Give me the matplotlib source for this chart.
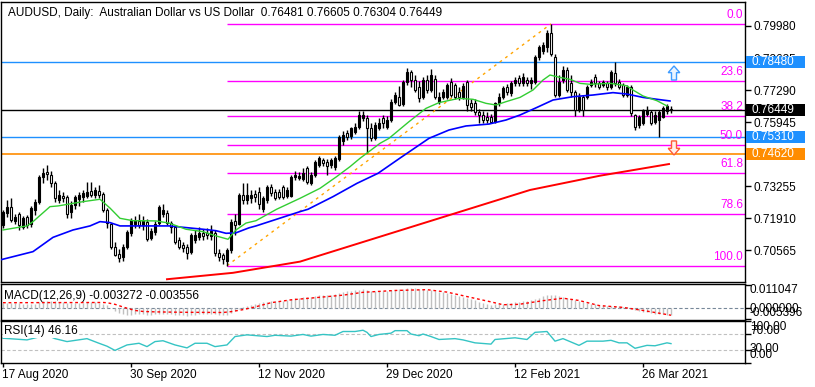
import numpy as np
import matplotlib
matplotlib.use("Agg")
import matplotlib.pyplot as plt
import matplotlib.transforms as mtransforms
from matplotlib.patches import FancyArrow, Rectangle

# ---------------- data ----------------
opens = [
 .7162,.7211,.7236,.7180,.7206,.7155,.7197,.7165,.7225,.7258,
 .7362,.7385,.7372,.7337,.7267,.7285,.7280,.7215,.7246,.7270,
 .7280,.7285,.7305,.7290,.7305,.7292,.7225,.7165,.7071,.7040,
 .7029,.7071,.7127,.7165,.7178,.7162,.7175,.7108,.7134,.7170,
 .7210,.7211,.7172,.7155,.7099,.7078,.7071,.7050,.7100,.7110,
 .7130,.7128,.7115,.7130,.7045,.7036,.7010,.7057,.7180,.7165,
 .7288,.7265,.7275,.7294,.7300,.7228,.7265,.7323,.7302,.7300,
 .7320,.7285,.7285,.7364,.7360,.7355,.7400,.7340,.7372,.7415,
 .7435,.7428,.7415,.7405,.7438,.7515,.7547,.7536,.7554,.7575,
 .7610,.7610,.7571,.7529,.7568,.7610,.7575,.7603,.7680,.7698,
 .7670,.7764,.7806,.7770,.7740,.7700,.7771,.7729,.7776,.7680,
 .7700,.7700,.7764,.7750,.7720,.7700,.7764,.7673,.7673,.7638,
 .7624,.7617,.7617,.7596,.7673,.7700,.7743,.7715,.7757,.7778,
 .7757,.7771,.7757,.7764,.7869,.7895,.7910,.7967,.7869,.7708,
 .7771,.7813,.7760,.7722,.7645,.7701,.7701,.7750,.7785,.7757,
 .7750,.7757,.7743,.7800,.7764,.7750,.7708,.7743,.7624,.7582,
 .7589,.7630,.7638,.7596,.7603,.7617,.7640,.76481]
highs = [
 .7225,.7267,.7274,.7210,.7215,.7200,.7205,.7240,.7270,.7372,
 .7400,.7413,.7390,.7345,.7310,.7300,.7290,.7262,.7290,.7300,
 .7310,.7344,.7342,.7320,.7330,.7300,.7235,.7170,.7090,.7060,
 .7080,.7140,.7190,.7200,.7210,.7200,.7185,.7150,.7180,.7245,
 .7250,.7225,.7180,.7160,.7110,.7090,.7080,.7130,.7140,.7155,
 .7145,.7150,.7160,.7140,.7060,.7045,.7065,.7185,.7210,.7295,
 .7337,.7340,.7310,.7310,.7320,.7285,.7330,.7335,.7315,.7315,
 .7330,.7320,.7370,.7390,.7385,.7400,.7410,.7385,.7435,.7450,
 .7445,.7440,.7445,.7450,.7540,.7555,.7560,.7575,.7590,.7642,
 .7640,.7625,.7590,.7595,.7610,.7625,.7620,.7690,.7720,.7745,
 .7770,.7820,.7815,.7790,.7765,.7785,.7790,.7819,.7790,.7720,
 .7735,.7760,.7780,.7760,.7740,.7760,.7770,.7690,.7690,.7650,
 .7640,.7635,.7630,.7680,.7715,.7745,.7755,.7765,.7785,.7790,
 .7800,.7785,.7785,.7875,.7920,.7930,.7980,.8007,.7880,.7790,
 .7830,.7825,.7790,.7730,.7715,.7710,.7750,.7775,.7795,.7765,
 .7770,.7765,.7815,.7848,.7775,.7760,.7750,.7750,.7630,.7625,
 .7650,.7660,.7645,.7640,.7645,.7660,.7670,.76605]
lows = [
 .7150,.7195,.7176,.7165,.7141,.7145,.7150,.7155,.7205,.7250,
 .7340,.7350,.7320,.7260,.7255,.7260,.7190,.7191,.7230,.7240,
 .7260,.7275,.7280,.7275,.7275,.7215,.7150,.7060,.7030,.7008,
 .7010,.7060,.7115,.7150,.7150,.7140,.7095,.7100,.7120,.7160,
 .7195,.7160,.7130,.7080,.7060,.7050,.7021,.7040,.7085,.7100,
 .7100,.7105,.7100,.7030,.7010,.7000,.6991,.7045,.7120,.7160,
 .7250,.7250,.7255,.7260,.7230,.7215,.7255,.7285,.7265,.7270,
 .7270,.7275,.7280,.7350,.7350,.7345,.7335,.7330,.7365,.7405,
 .7410,.7370,.7400,.7395,.7430,.7500,.7520,.7525,.7545,.7565,
 .7600,.7464,.7515,.7520,.7560,.7570,.7565,.7595,.7670,.7660,
 .7660,.7750,.7740,.7720,.7680,.7690,.7715,.7720,.7690,.7670,
 .7690,.7690,.7700,.7690,.7685,.7690,.7640,.7640,.7625,.7592,
 .7590,.7590,.7590,.7590,.7660,.7690,.7710,.7705,.7745,.7745,
 .7745,.7745,.7735,.7755,.7855,.7880,.7890,.7870,.7700,.7700,
 .7760,.7720,.7700,.7620,.7635,.7620,.7690,.7740,.7740,.7735,
 .7740,.7730,.7735,.7745,.7735,.7700,.7700,.7620,.7560,.7570,
 .7580,.7620,.7580,.7585,.7531,.7610,.7630,.76304]
closes = [
 .7218,.7239,.7183,.7197,.7162,.7190,.7162,.7232,.7260,.7365,
 .7380,.7375,.7337,.7274,.7288,.7275,.7210,.7248,.7280,.7288,
 .7295,.7302,.7290,.7309,.7290,.7225,.7170,.7071,.7036,.7025,
 .7071,.7134,.7183,.7180,.7162,.7180,.7105,.7135,.7166,.7239,
 .7225,.7169,.7153,.7092,.7071,.7064,.7043,.7120,.7118,.7130,
 .7115,.7118,.7135,.7043,.7029,.7020,.7057,.7176,.7160,.7288,
 .7265,.7290,.7288,.7280,.7250,.7274,.7323,.7298,.7274,.7280,
 .7281,.7310,.7365,.7372,.7368,.7379,.7344,.7372,.7428,.7442,
 .7421,.7410,.7433,.7442,.7533,.7540,.7533,.7568,.7575,.7624,
 .7624,.7571,.7529,.7582,.7589,.7589,.7603,.7680,.7708,.7666,
 .7764,.7806,.7770,.7729,.7694,.7771,.7729,.7790,.7700,.7700,
 .7720,.7750,.7708,.7700,.7700,.7745,.7666,.7659,.7638,.7624,
 .7603,.7603,.7596,.7673,.7701,.7736,.7722,.7757,.7771,.7757,
 .7785,.7757,.7771,.7869,.7911,.7918,.7967,.7880,.7708,.7764,
 .7813,.7729,.7722,.7645,.7701,.7645,.7743,.7764,.7757,.7743,
 .7764,.7743,.7806,.7757,.7743,.7708,.7740,.7631,.7575,.7617,
 .7645,.7645,.7589,.7624,.7638,.7652,.7660,.76449]

# moving averages (bar position, price)
ma_fast_x = [0,6,7.5,11.75,13.75,20,24.25,26.75,29.25,32.5,38.25,41.5,45.75,50,53.25,56.25,58.25,60.75,63.25,68.4,74.25,79.25,83.4,86.75,89.25,94.25,96.5,101.5,105.75,109,114,117.5,120.75,123.25,125.75,129.25,132.5,135,136.75,139.25,141.75,144.25,146.75,151.75,155.9,157.5,160,163.5,166]
ma_fast_v = [.7141,.7158,.7176,.7239,.7242,.7260,.7270,.7233,.7190,.7180,.7179,.7170,.7144,.7134,.7116,.7102,.7141,.7170,.7180,.7228,.7274,.7316,.7365,.7407,.7442,.7505,.7526,.7596,.7652,.7676,.7694,.7690,.7673,.7666,.7680,.7698,.7729,.7771,.7792,.7782,.7774,.7757,.7753,.7757,.7747,.7729,.7704,.7684,.7662]
ma_mid_x = [-0.75,7.5,12.5,17.5,21.75,24.25,26.75,29.25,33.25,41.5,50,53.25,55.75,58.25,61.5,63.25,74.25,76.25,82.5,88.5,93.75,99.25,106.5,111.5,115.75,121.5,125.75,129.25,133.5,137.5,142.5,147.5,152.5,156,160,163.5,166.75]
ma_mid_v = [.7015,.7050,.7110,.7141,.7158,.7176,.7172,.7158,.7158,.7158,.7144,.7138,.7127,.7129,.7150,.7158,.7218,.7228,.7281,.7337,.7379,.7443,.7526,.7561,.7578,.7586,.7603,.7624,.7656,.7687,.7701,.7708,.7718,.7712,.7698,.7690,.7683]
ma_slow_x = [41, 57.5, 74.25, 131.75, 149.25, 166.5]
ma_slow_v = [.6934, .6961, .7008, .7309, .7369, .7418]

# levels
fib_high, fib_low = 0.8007, 0.6991
fib_high_bar, fib_low_bar = 137, 56
fib_ratios = [0.0, 23.6, 38.2, 50.0, 61.8, 78.6, 100.0]
blue_levels = [0.78480, 0.75310]
orange_level = 0.74620
bid = 0.76449

# MACD histogram (one value per bar)
macd_main = [
 .0024,.0025,.0025,.0024,.0023,.0022,.0021,.0021,.0022,
 .0028,.0033,.0036,.0036,.0033,.0031,
 .0029,.0025,.0024,.0024,.0025,.0026,.0027,.0027,.0027,.0026,.0022,
 .0014,-.0002,-.0015,
 -.0026,-.0031,-.0033,-.0032,-.0031,
 -.0030,-.0030,-.0032,-.0032,-.0031,-.0028,-.0027,-.0028,-.0030,-.0033,-.0035,-.0036,-.0037,
 -.0034,-.0032,-.0030,-.0029,-.0028,-.0027,-.0030,-.0033,-.0035,
 -.0033,-.0024,-.0017,-.0007,.0003,
 .0011,.0017,.0022,.0025,.0027,.0031,.0033,.0034,.0035,.0036,
 .0038,.0043,.0047,.0050,.0053,.0052,.0054,.0058,.0062,.0064,.0065,.0066,.0067,.0073,.0078,.0081,.0084,.0086,.0090,.0092,
 .0088,.0084,.0084,.0083,.0082,.0082,.0086,.0090,.0092,.0094,.0097,.0098,.0097,.0093,.0093,
 .0090,.0090,.0085,.0080,.0077,.0074,.0070,.0065,
 .0060,.0055,.0048,.0043,.0037,.0031,.0025,.0020,.0016,
 .0018,.0020,.0022,.0024,.0026,.0029,.0031,.0034,
 .0036,.0037,.0044,.0051,.0057,.0063,.0066,.0062,
 .0058,.0055,.0050,.0045,.0038,.0034,.0028,
 .0025,.0022,.0019,.0016,.0013,.0011,.0012,
 .0012,.0010,.0006,.0003,
 -.0004,-.0010,-.0015,-.0018,-.0021,-.0025,-.0027,-.0030,-.0031,-.0032,-.003272]
macd_sig_x = [0,25,26,28,30,31,33,35,38,45,55,57,60,63,67,72,80,85,90,98,106,111,116,122,125,129,135,140,144,149,155,160,167]
macd_sig_v = [.0026,.0027,.0026,.0018,.0005,-.0001,-.0012,-.0017,-.0019,-.0021,-.0022,-.0018,-.0008,.0005,.0026,.0040,.0054,.0063,.0077,.0086,.0090,.0078,.0056,.0030,.0016,.0018,.0036,.0048,.0037,.0012,.0003,-.0012,-.003556]

rsi_x = [0,6,9,11,13,16,21,24,26,28,31,34,36,38,40,43,46,48,51,53,56,58,61,66,68,72,75,77,80,83,85,88,90,91,92,94,97,98,101,102,104,105,107,109,113,115,118,122,123,128,131,133,136,138,140,144,146,150,152,154,156,158,161,163,166,167]
rsi_v = [59,55,62,66,58,51,58,47,40,30,43,47,39,51,53,43,36,47,47,39,43,63,67,63,66,64,68,64,68,66,75,75,78,73,63,68,71,77,77,69,65,69,63,56,58,55,48,45,56,60,56,73,75,52,58,42,52,52,54,48,48,35,42,41,48,46.16]

date_labels = ["17 Aug 2020", "30 Sep 2020", "12 Nov 2020", "29 Dec 2020", "12 Feb 2021", "26 Mar 2021"]
date_bars = [0, 32, 64, 96, 128, 160]
price_ticks = [0.79980, 0.78635, 0.77290, 0.75945, 0.74600, 0.73255, 0.71910, 0.70565]

# ---------------- figure ----------------
W, H, DPI = 815, 387, 100
FONT = "Liberation Sans"
FS = 8.5
plt.rcParams["font.family"] = [FONT, "DejaVu Sans"]
fig = plt.figure(figsize=(W / DPI, H / DPI), dpi=DPI)
fig.patch.set_facecolor("white")

def px_axes(x0, y0, x1, y1):
    return fig.add_axes([x0 / W, 1 - y1 / H, (x1 - x0) / W, (y1 - y0) / H])

ax = px_axes(1, 2, 745, 282)
axm = px_axes(1, 284, 745, 320)
axr = px_axes(1, 321, 745, 363)

XL = (-0.5, 185.5)
for a in (ax, axm, axr):
    a.set_xlim(*XL)
    for s in a.spines.values():
        s.set_color("black")
        s.set_linewidth(1.0)
    a.set_xticks([])

ax.set_ylim(0.69224, 0.80988)

# horizontal objects
ax.axhline(bid, color="black", lw=1.0, zorder=1)
for lv in blue_levels:
    ax.axhline(lv, color="#1E90FF", lw=1.0, zorder=1)
ax.axhline(orange_level, color="#FF8C00", lw=1.2, zorder=1)

fib_rng = fib_high - fib_low
fib_prices = [fib_high - r / 100.0 * fib_rng for r in fib_ratios]
ax.hlines(fib_prices, fib_low_bar, XL[1], color="#FF00FF", lw=1.0, zorder=1)
ax.plot([fib_low_bar, fib_high_bar], [fib_low, fib_high], color="#FFA500",
        ls=(0, (2, 3)), lw=1.0, zorder=1)
lab_tr = mtransforms.offset_copy(ax.transData, fig=fig, y=3, units="dots")
for r, p in zip(fib_ratios, fib_prices):
    ax.text(185.0, p, f"{r:.1f}", color="#FF00FF", fontsize=FS, ha="right",
            va="bottom", transform=lab_tr, zorder=5)

# candles
o = np.array(opens); h = np.array(highs); l = np.array(lows); c = np.array(closes)
h = np.maximum(h, np.maximum(o, c)); l = np.minimum(l, np.minimum(o, c))
idx = np.arange(len(c))
up = c >= o
ax.vlines(idx, l, h, color="black", lw=1.0, zorder=3)
body_b = np.minimum(o, c)
body_h = np.maximum(np.abs(c - o), 0.00006)
ax.bar(idx, body_h, bottom=body_b, width=0.5,
       color=np.where(up, "black", "white"), edgecolor="black", linewidth=0.8, zorder=3)

# moving averages
ax.plot(ma_slow_x, ma_slow_v, color="#FF0000", lw=1.4, zorder=4)
ax.plot(ma_mid_x, ma_mid_v, color="#0000FF", lw=1.2, zorder=4)
ax.plot(ma_fast_x, ma_fast_v, color="#32CD32", lw=1.0, zorder=4)

# arrows
ax.add_patch(FancyArrow(167.75, 0.7771, 0, 0.0059, width=1.25, head_width=2.9,
                        head_length=0.0028, length_includes_head=True,
                        fc="#EAF4FF", ec="#3D9BFF", lw=1.0, zorder=5))
ax.add_patch(FancyArrow(167.75, 0.7515, 0, -0.0059, width=1.25, head_width=2.9,
                        head_length=0.0028, length_includes_head=True,
                        fc="#FFF0EA", ec="#FF5A36", lw=1.0, zorder=5))

# right price axis
ax.yaxis.tick_right()
ax.set_yticks(price_ticks)
ax.set_yticklabels([f"{v:.5f}" for v in price_ticks])
ax.tick_params(axis="y", length=4, width=1, pad=2, labelsize=FS, direction="out")

bt = mtransforms.blended_transform_factory(ax.transAxes, ax.transData)
box_w = 59 / 744.0
box_h = 12 / 2380.0
for val, col in [(0.78480, "#1E90FF"), (0.76449, "black"), (0.75310, "#1E90FF"), (0.74620, "#FF8C00")]:
    ax.add_patch(Rectangle((1.0 + 1 / 744.0, val - box_h / 2), box_w, box_h, transform=bt,
                           facecolor=col, edgecolor="none", clip_on=False, zorder=6))
    ax.text(1.0 + 6 / 744.0, val, f"{val:.5f}", transform=bt, color="white", fontsize=FS,
            ha="left", va="center", clip_on=False, zorder=7)

# title
fig.text(8 / W, 1 - 13 / H,
         "AUDUSD, Daily:  Australian Dollar vs US Dollar  0.76481 0.76605 0.76304 0.76449",
         fontsize=FS, ha="left", va="center")

# MACD panel
axm.set_ylim(-0.00589, 0.01178)
axm.axhline(0, color="#778899", ls=(0, (3, 2)), lw=0.8, zorder=1)
axm.vlines(idx[:len(macd_main)], 0, macd_main, color="#C0C0C0", lw=1.0, zorder=2)
axm.plot(macd_sig_x, macd_sig_v, color="red", ls=(0, (2, 2)), lw=1.0, zorder=3)
axm.set_yticks([0.011047, 0.0, -0.005396])
axm.yaxis.tick_right()
axm.set_yticklabels([])
axm.tick_params(axis="y", length=4, width=1, direction="out")
fig.text(4 / W, 1 - 296 / H, "MACD(12,26,9) -0.003272 -0.003556", fontsize=FS,
         ha="left", va="center")
for txt, yp in [("0.011047", 290), ("0.000000", 308.5), ("-0.005396", 313.5)]:
    fig.text(750 / W, 1 - yp / H, txt, fontsize=FS, ha="left", va="center")

# RSI panel
axr.set_ylim(0, 100)
for lv in (70, 30):
    axr.axhline(lv, color="#C0C0C0", ls=(0, (3, 2)), lw=0.8, zorder=1)
axr.plot(rsi_x, rsi_v, color="#35C4C4", lw=1.0, zorder=2)
axr.set_yticks([100, 70, 30, 0])
axr.yaxis.tick_right()
axr.set_yticklabels([])
axr.tick_params(axis="y", length=4, width=1, direction="out")
fig.text(4 / W, 1 - 331 / H, "RSI(14) 46.16", fontsize=FS, ha="left", va="center",
         bbox=dict(facecolor="white", edgecolor="none", pad=0.5), zorder=10)
for txt, yp in [("100.00", 326.5), ("70.00", 331.5), ("30.00", 348.5), ("0.00", 355)]:
    fig.text(750 / W, 1 - yp / H, txt, fontsize=FS, ha="left", va="center")

axr.set_xticks(date_bars)
axr.set_xticklabels([])
axr.tick_params(axis="x", length=3, width=1, direction="out")
for lab, b in zip(date_labels, date_bars):
    xp = 3 + 4 * b - 1
    fig.text(xp / W, 1 - 375 / H, lab, fontsize=FS, ha="left", va="center")

fig.savefig("out.png", dpi=DPI, facecolor="white")
